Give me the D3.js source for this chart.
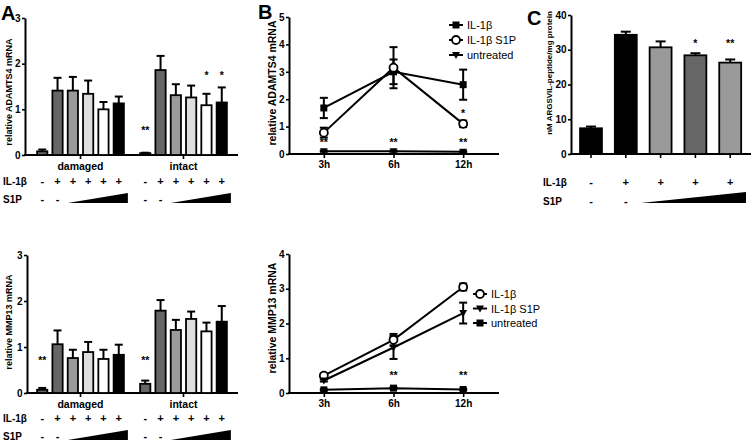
<!DOCTYPE html>
<html><head><meta charset="utf-8">
<script src="https://cdn.jsdelivr.net/npm/d3@7"></script>
<style>
body{margin:0;background:#fff}
svg{display:block}
text{font-family:"Liberation Sans",Arial,sans-serif;fill:#000}
</style>
</head><body>
<svg id="c" width="752" height="445"></svg>
<script>
// ---------- DATA ----------
const groups = ["damaged", "intact"];
const barFills = ["#666666", "#666666", "#9a9a9a", "#dedede", "#ffffff", "#000000"];
const ilSigns = ["-", "+", "+", "+", "+", "+"];
const s1pSigns = ["-", "-"];

const adamtsDamaged = [0.08, 1.41, 1.41, 1.34, 1.00, 1.13];
const adamtsDamagedErr = [0.04, 0.28, 0.30, 0.29, 0.16, 0.15];
const adamtsIntact = [0.04, 1.86, 1.31, 1.26, 1.09, 1.15];
const adamtsIntactErr = [0.01, 0.31, 0.24, 0.26, 0.25, 0.33];
const adamtsStars = [{g: "intact", i: 0, t: "**", lvl: 0.55}, {g: "intact", i: 4, t: "*", lvl: 1.75}, {g: "intact", i: 5, t: "*", lvl: 1.75}];

const mmpDamaged = [0.07, 1.06, 0.76, 0.89, 0.74, 0.83];
const mmpDamagedErr = [0.04, 0.30, 0.18, 0.22, 0.20, 0.22];
const mmpIntact = [0.20, 1.79, 1.37, 1.61, 1.34, 1.55];
const mmpIntactErr = [0.07, 0.23, 0.22, 0.16, 0.19, 0.34];
const mmpStars = [{g: "damaged", i: 0, t: "**", lvl: 0.72}, {g: "intact", i: 0, t: "**", lvl: 0.72}];

const timePoints = ["3h", "6h", "12h"];
const bTopSeries = [
  {name: "IL-1β", marker: "square", vals: [1.68, 3.00, 2.53], errs: [0.37, 0.45, 0.55]},
  {name: "IL-1β S1P", marker: "circle", vals: [0.78, 3.15, 1.10], errs: [0.18, 0.75, 0.12]},
  {name: "untreated", marker: "tri", vals: [0.10, 0.10, 0.08], errs: [0.02, 0.02, 0.02]}
];
const bTopStars = [{x: "3h", t: "**", lvl: 0.42}, {x: "6h", t: "**", lvl: 0.42}, {x: "12h", t: "**", lvl: 0.42}, {x: "12h", t: "*", lvl: 1.5}];

const bBotSeries = [
  {name: "IL-1β", marker: "circle", vals: [0.50, 1.53, 3.05], errs: [0.06, 0.17, 0.10]},
  {name: "IL-1β S1P", marker: "tri", vals: [0.36, 1.31, 2.30], errs: [0.03, 0.33, 0.30]},
  {name: "untreated", marker: "square", vals: [0.09, 0.14, 0.10], errs: [0.02, 0.02, 0.02]}
];
const bBotStars = [{x: "6h", t: "**", lvl: 0.52}, {x: "12h", t: "**", lvl: 0.52}];

const cCats = ["c1", "c2", "c3", "c4", "c5"];
const cVals = [7.4, 34.3, 30.7, 28.4, 26.3];
const cErrs = [0.5, 0.9, 1.7, 0.6, 0.9];
const cFills = ["#000000", "#000000", "#9a9a9a", "#666666", "#9a9a9a"];
const cIl = ["-", "+", "+", "+", "+"];
const cS1p = ["-", "-"];
const cStars = [{i: 3, t: "*", lvl: 32}, {i: 4, t: "**", lvl: 32}];

// ---------- HELPERS ----------
const svg = d3.select("#c");
const FONT = "\"Liberation Sans\",Arial,sans-serif";

function styleAxis(sel, fs) {
  sel.select(".domain").attr("stroke", "#000").attr("stroke-width", 2);
  sel.selectAll(".tick line").attr("stroke", "#000").attr("stroke-width", 1.6);
  sel.selectAll(".tick text").attr("font-size", fs || 10).attr("font-weight", "bold").attr("fill", "#000").attr("font-family", FONT);
}
function txt(g, x, y, s, o) {
  o = o || {};
  return g.append("text").attr("x", x).attr("y", y).text(s)
    .attr("font-size", o.fs || 10).attr("font-weight", o.fw || "bold")
    .attr("text-anchor", o.anchor || "middle").attr("dominant-baseline", "central");
}
function vlabel(g, x, y, s, fs) {
  g.append("text").attr("transform", `translate(${x},${y}) rotate(-90)`).text(s)
    .attr("font-size", fs).attr("font-weight", "bold").attr("text-anchor", "middle").attr("dominant-baseline", "central");
}
function errBar(g, cx, yv, ye, w) {
  g.append("line").attr("x1", cx).attr("x2", cx).attr("y1", yv).attr("y2", ye).attr("stroke", "#000").attr("stroke-width", 2);
  g.append("line").attr("x1", cx - w / 2).attr("x2", cx + w / 2).attr("y1", ye).attr("y2", ye).attr("stroke", "#000").attr("stroke-width", 2);
}
function marker(g, type, cx, cy) {
  if (type === "square") {
    g.append("rect").attr("x", cx - 3.5).attr("y", cy - 3.5).attr("width", 7).attr("height", 7).attr("fill", "#000");
  } else if (type === "circle") {
    g.append("circle").attr("cx", cx).attr("cy", cy).attr("r", 4).attr("fill", "#fff").attr("stroke", "#000").attr("stroke-width", 1.8);
  } else {
    g.append("path").attr("d", `M${cx - 4},${cy - 3} L${cx + 4},${cy - 3} L${cx},${cy + 4} Z`).attr("fill", "#000");
  }
}

// ---------- PANEL A ----------
function panelA(cfg) {
  const g = svg.append("g");
  const y = d3.scaleLinear().domain([0, 3]).range([cfg.y0, cfg.y1]);
  const x0 = d3.scaleBand().domain(groups).range([29, 235]);
  const x1 = d3.scaleBand().domain(d3.range(6)).range([0, x0.bandwidth()]).paddingInner(0.33).paddingOuter(0.53);
  const ax = g.append("g").attr("transform", `translate(${cfg.ax},0)`)
    .call(d3.axisLeft(y).tickValues([0, 1, 2, 3]).tickFormat(d3.format("d")).tickSize(3).tickSizeOuter(0).tickPadding(1.5));
  styleAxis(ax, 10);
  g.append("line").attr("x1", cfg.ax - 1).attr("x2", 238).attr("y1", y(0)).attr("y2", y(0)).attr("stroke", "#000").attr("stroke-width", 2);
  const data = {damaged: [cfg.dv, cfg.de], intact: [cfg.iv, cfg.ie]};
  groups.forEach(gr => {
    const gc = x0(gr) + x0.bandwidth() / 2;
    g.append("line").attr("x1", gc).attr("x2", gc).attr("y1", y(0)).attr("y2", y(0) + 4).attr("stroke", "#000").attr("stroke-width", 1.6);
    const [vals, errs] = data[gr];
    vals.forEach((v, i) => {
      const bx = x0(gr) + x1(i), bw = x1.bandwidth(), cx = bx + bw / 2;
      errBar(g, cx, y(v), y(v + errs[i]), 8);
      g.append("rect").attr("x", bx).attr("y", y(v)).attr("width", bw).attr("height", y(0) - y(v))
        .attr("fill", barFills[i]).attr("stroke", "#000").attr("stroke-width", 1.8);
    });
    txt(g, gc, y(0) + 11, gr, {fs: 10.5});
    ilSigns.forEach((s, i) => txt(g, x0(gr) + x1(i) + x1.bandwidth() / 2, cfg.rowIL, s, {fs: 11}));
    s1pSigns.forEach((s, i) => txt(g, x0(gr) + x1(i) + x1.bandwidth() / 2, cfg.rowS, s, {fs: 11}));
    const tx0 = x0(gr) + x1(2), tx1 = x0(gr) + x1(5) + x1.bandwidth() + 4;
    g.append("path").attr("d", `M${tx0},${cfg.rowS + 4} L${tx1},${cfg.rowS + 4} L${tx1},${cfg.rowS - 6} Z`).attr("fill", "#000");
  });
  cfg.stars.forEach(s => txt(g, x0(s.g) + x1(s.i) + x1.bandwidth() / 2, y(s.lvl), s.t, {fs: 10.5}));
  txt(g, 3, cfg.rowIL, "IL-1β", {fs: 10, anchor: "start"});
  txt(g, 3, cfg.rowS, "S1P", {fs: 10, anchor: "start"});
  vlabel(g, 9, cfg.labY, cfg.label, 9);
}

panelA({y0: 155, y1: 18, ax: 25, dv: adamtsDamaged, de: adamtsDamagedErr, iv: adamtsIntact, ie: adamtsIntactErr,
  stars: adamtsStars, rowIL: 181, rowS: 199, label: "relative ADAMTS4 mRNA", labY: 92});
panelA({y0: 393, y1: 255, ax: 27, dv: mmpDamaged, de: mmpDamagedErr, iv: mmpIntact, ie: mmpIntactErr,
  stars: mmpStars, rowIL: 418, rowS: 436, label: "relative MMP13 mRNA", labY: 322});

// ---------- PANEL B ----------
function panelB(cfg) {
  const g = svg.append("g");
  const y = d3.scaleLinear().domain([0, cfg.max]).range([cfg.y0, cfg.y1]);
  const x = d3.scalePoint().domain(timePoints).range([289, 498]).padding(0.5);
  const ax = g.append("g").attr("transform", "translate(289,0)")
    .call(d3.axisLeft(y).ticks(cfg.max).tickFormat(d3.format("d")).tickSize(3).tickSizeOuter(0).tickPadding(1.5));
  styleAxis(ax, 10);
  const bx = g.append("g").attr("transform", `translate(0,${cfg.y0})`)
    .call(d3.axisBottom(x).tickSize(4).tickSizeOuter(0).tickPadding(3));
  bx.select(".domain").remove();
  styleAxis(bx, 10);
  g.append("line").attr("x1", 288).attr("x2", 499).attr("y1", y(0)).attr("y2", y(0)).attr("stroke", "#000").attr("stroke-width", 2);
  const line = d3.line().x((d, i) => x(timePoints[i])).y(d => y(d));
  cfg.series.forEach(s => {
    g.append("path").attr("d", line(s.vals)).attr("fill", "none").attr("stroke", "#000").attr("stroke-width", 2);
  });
  cfg.series.forEach(s => {
    s.vals.forEach((v, i) => {
      const cx = x(timePoints[i]);
      g.append("line").attr("x1", cx).attr("x2", cx).attr("y1", y(v - s.errs[i])).attr("y2", y(v + s.errs[i])).attr("stroke", "#000").attr("stroke-width", 2);
      [v - s.errs[i], v + s.errs[i]].forEach(e => g.append("line").attr("x1", cx - 4).attr("x2", cx + 4).attr("y1", y(e)).attr("y2", y(e)).attr("stroke", "#000").attr("stroke-width", 2));
    });
  });
  cfg.series.forEach(s => s.vals.forEach((v, i) => marker(g, s.marker, x(timePoints[i]), y(v))));
  cfg.stars.forEach(s => txt(g, x(s.x), y(s.lvl), s.t, {fs: 10.5}));
  cfg.series.forEach((s, i) => {
    const ly = cfg.legY + i * cfg.legStep;
    g.append("line").attr("x1", cfg.legX - 7).attr("x2", cfg.legX + 7).attr("y1", ly).attr("y2", ly).attr("stroke", "#000").attr("stroke-width", 2);
    marker(g, s.marker, cfg.legX, ly);
    txt(g, cfg.legX + 11, ly, s.name, {fs: 11, fw: "normal", anchor: "start"});
  });
  vlabel(g, 272, cfg.labY, cfg.label, 10.5);
}

panelB({max: 5, y0: 154, y1: 17, series: bTopSeries, stars: bTopStars, legX: 456, legY: 25, legStep: 15,
  label: "relative ADAMTS4 mRNA", labY: 83});
panelB({max: 4, y0: 393, y1: 254, series: bBotSeries, stars: bBotStars, legX: 480, legY: 294, legStep: 14.5,
  label: "relative MMP13 mRNA", labY: 318});

// ---------- PANEL C ----------
(function () {
  const g = svg.append("g");
  const y = d3.scaleLinear().domain([0, 40]).range([154, 15]);
  const x = d3.scaleBand().domain(cCats).range([573.6, 747.6]).paddingInner(0.37).paddingOuter(0.185);
  const ax = g.append("g").attr("transform", "translate(571,0)")
    .call(d3.axisLeft(y).tickValues([0, 10, 20, 30, 40]).tickSize(3).tickSizeOuter(0).tickPadding(1.5));
  styleAxis(ax, 10);
  g.append("line").attr("x1", 570).attr("x2", 751).attr("y1", y(0)).attr("y2", y(0)).attr("stroke", "#000").attr("stroke-width", 2);
  cVals.forEach((v, i) => {
    const bx = x(cCats[i]), bw = x.bandwidth(), cx = bx + bw / 2;
    g.append("line").attr("x1", cx).attr("x2", cx).attr("y1", y(0)).attr("y2", y(0) + 4).attr("stroke", "#000").attr("stroke-width", 1.6);
    errBar(g, cx, y(v), y(v + cErrs[i]), 10);
    g.append("rect").attr("x", bx).attr("y", y(v)).attr("width", bw).attr("height", y(0) - y(v))
      .attr("fill", cFills[i]).attr("stroke", "#000").attr("stroke-width", 1.8);
    txt(g, cx, 182, cIl[i], {fs: 11});
    if (i < cS1p.length) txt(g, cx, 201, cS1p[i], {fs: 11});
  });
  cStars.forEach(s => txt(g, x(cCats[s.i]) + x.bandwidth() / 2, y(s.lvl), s.t, {fs: 10.5}));
  const tx0 = x(cCats[2]) - 9, tx1 = 746;
  g.append("path").attr("d", `M${tx0},203 L${tx1},203 L${tx1},192 Z`).attr("fill", "#000");
  txt(g, 543, 182, "IL-1β", {fs: 10, anchor: "start"});
  txt(g, 543, 201, "S1P", {fs: 10, anchor: "start"});
  vlabel(g, 549, 73, "nM ARGSVIL-peptide/mg protein", 8);
})();

// ---------- PANEL LETTERS ----------
[["A", 1, 13], ["B", 258, 12], ["C", 527, 18]].forEach(([s, x, yy]) =>
  txt(svg, x, yy, s, {fs: 20, anchor: "start"}));
</script>
</body></html>
